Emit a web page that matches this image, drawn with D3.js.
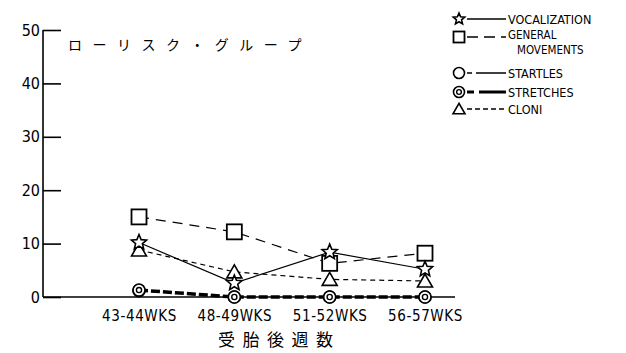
<!DOCTYPE html>
<html><head><meta charset="utf-8">
<script src="https://cdn.jsdelivr.net/npm/d3@7"></script>
<style>
body{margin:0;background:#fff;}
text{fill:#000;}
</style></head>
<body><svg id="c" width="626" height="353"></svg>
<script>
const categories = ["43-44WKS","48-49WKS","51-52WKS","56-57WKS"];
const yTicks = [0,10,20,30,40,50];
const vocalization = [10.2, 2.6, 8.4, 5.2];
const generalMovements = [15.0, 12.2, 6.3, 8.2];
const startles = [1.2, 0, 0, 0];
const stretches = [1.3, 0, 0, 0];
const cloni = [8.8, 4.7, 3.3, 3.0];
const seriesNames = ["VOCALIZATION","GENERAL MOVEMENTS","STARTLES","STRETCHES","CLONI"];
const title = "ローリスク・グループ";
const xTitle = "受胎後週数";

const svg = d3.select("#c");
const font = "'DejaVu Sans Condensed','Liberation Sans Narrow',Arial,sans-serif";
const x = d3.scalePoint().domain(categories).range([139, 425]);
const y = d3.scaleLinear().domain([0, 50]).range([297, 30]);

// axes
const yAxis = d3.axisLeft(y).tickValues(yTicks).tickSize(-18).tickPadding(3).tickFormat(d3.format("d"));
const ga = svg.append("g").attr("transform","translate(43,0)").call(yAxis);
ga.select(".domain").remove();
ga.selectAll(".tick line").attr("stroke","#000").attr("stroke-width",1.6);
ga.selectAll(".tick text").attr("font-family",font).attr("font-size",16).attr("fill","#000");
svg.append("line").attr("x1",43).attr("x2",43).attr("y1",y(50)).attr("y2",y(0)).attr("stroke","#000").attr("stroke-width",1.6);
svg.append("line").attr("x1",43).attr("x2",455).attr("y1",y(0)).attr("y2",y(0)).attr("stroke","#000").attr("stroke-width",1.6);

const xAxis = d3.axisBottom(x).tickSize(0).tickPadding(13);
const gx = svg.append("g").attr("transform",`translate(0,${y(0)})`).call(xAxis);
gx.select(".domain").remove();
gx.selectAll(".tick text").attr("font-family",font).attr("font-size",15).attr("letter-spacing","0.6px").attr("fill","#000");

svg.append("text").attr("x",68).attr("y",50).attr("font-family","'Noto Sans CJK JP',sans-serif")
  .attr("font-size",14).attr("letter-spacing","10.5px").text(title);
svg.append("text").attr("x",218).attr("y",346).attr("font-family","'Noto Sans CJK JP',sans-serif")
  .attr("font-size",17).attr("letter-spacing","7.5px").text(xTitle);

// markers
function star(g, cx, cy, r){
  const pts=[];
  for(let i=0;i<10;i++){const a=-Math.PI/2+i*Math.PI/5;const rr=i%2?r*0.45:r;pts.push([cx+rr*Math.cos(a),cy+rr*Math.sin(a)]);}
  g.append("polygon").attr("points",pts.map(p=>p.join(",")).join(" ")).attr("fill","#fff").attr("stroke","#000").attr("stroke-width",1.6);
}
function square(g,cx,cy,s){s=s||15;g.append("rect").attr("x",cx-s/2).attr("y",cy-s/2).attr("width",s).attr("height",s).attr("fill","#fff").attr("stroke","#000").attr("stroke-width",1.8);}
function circle(g,cx,cy,r){r=r||6;g.append("circle").attr("cx",cx).attr("cy",cy).attr("r",r).attr("fill","#fff").attr("stroke","#000").attr("stroke-width",1.6);}
function dcircle(g,cx,cy,r){r=r||6;circle(g,cx,cy,r);g.append("circle").attr("cx",cx).attr("cy",cy).attr("r",r*0.43).attr("fill","#fff").attr("stroke","#000").attr("stroke-width",1.4);}
function tri(g,cx,cy,s){s=s||1;g.append("polygon").attr("points",`${cx},${cy-7*s} ${cx-7.5*s},${cy+6*s} ${cx+7.5*s},${cy+6*s}`).attr("fill","#fff").attr("stroke","#000").attr("stroke-width",1.6);}

const series = [
  {name:seriesNames[0], vals:vocalization, dash:null, w:1.2, mk:(g,a,b,big)=>star(g,a,b,big?8:6)},
  {name:seriesNames[1], vals:generalMovements, dash:"10,7", w:1.2, mk:(g,a,b,big)=>square(g,a,b,big?15:11)},
  {name:seriesNames[2], vals:startles, dash:"8,4", w:1.2, mk:(g,a,b,big)=>circle(g,a,b,big?6:5.5)},
  {name:seriesNames[3], vals:stretches, dash:"9,3", w:3.5, mk:(g,a,b,big)=>dcircle(g,a,b,big?6:5.5)},
  {name:seriesNames[4], vals:cloni, dash:"5,4", w:1.2, mk:(g,a,b,big)=>tri(g,a,b,big?1:0.8)}
];
const line = d3.line().x((d,i)=>x(categories[i])).y(d=>y(d));
series.forEach(s=>{
  const p = svg.append("path").attr("d",line(s.vals)).attr("fill","none").attr("stroke","#000").attr("stroke-width",s.w);
  if(s.dash) p.attr("stroke-dasharray",s.dash);
});
[2,3,1,4,0].forEach(k=>{
  const s=series[k]; const g=svg.append("g");
  s.vals.forEach((v,i)=>s.mk(g,x(categories[i]),y(v),true));
});

// legend
const ly=[19,37,73,92,109];
const legDash=[null,"11,6","5,4,30","7,5,27","5,3"];
series.forEach((s,i)=>{
  const g=svg.append("g");
  const ln=g.append("line").attr("x1",467).attr("x2",506).attr("y1",ly[i]).attr("y2",ly[i]).attr("stroke","#000").attr("stroke-width",i==3?2.8:1.3);
  if(legDash[i]) ln.attr("stroke-dasharray",legDash[i]);
  s.mk(g,459,ly[i],false);
  if(i==1){
    const words = s.name.split(" ");
    g.append("text").attr("x",508).attr("y",ly[i]+2).attr("font-family",font).attr("font-size",11.5).text(words[0]);
    g.append("text").attr("x",517).attr("y",ly[i]+17).attr("font-family",font).attr("font-size",11.5).text(words[1]);
  } else {
    g.append("text").attr("x",508).attr("y",ly[i]+4.5).attr("font-family",font).attr("font-size",12.5).text(s.name);
  }
});
</script></body></html>
